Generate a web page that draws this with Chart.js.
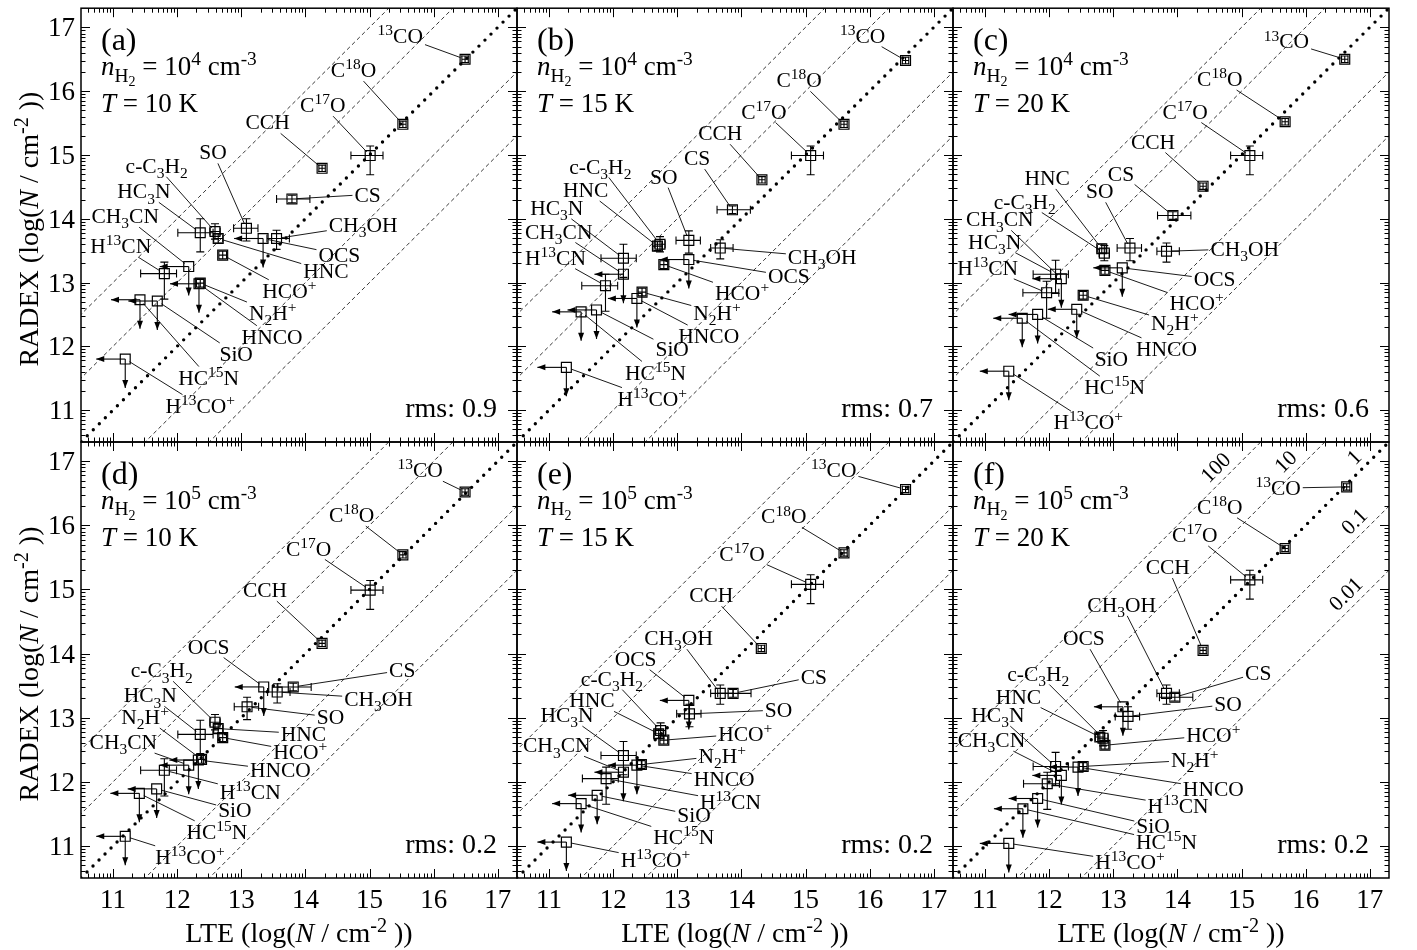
<!DOCTYPE html>
<html>
<head>
<meta charset="utf-8">
<script src="https://cdn.jsdelivr.net/npm/chart.js@4.4.1/dist/chart.umd.min.js"></script>
<style>
  html, body { margin: 0; padding: 0; background: #fff; }
  #wrap { position: relative; width: 1417px; height: 950px; }
  #wrap canvas { position: absolute; left: 0; top: 0; }
</style>
</head>
<body>
<div id="wrap"></div>
<script>
// molecule names (^{} superscript, _{} subscript)
var molecules = ['^{13}CO', 'C^{18}O', 'C^{17}O', 'CCH', 'CS', 'SO', 'c-C_{3}H_{2}', 'HC_{3}N', 'CH_{3}CN',
  'H^{13}CN', 'HNC', 'HCO^{+}', 'N_{2}H^{+}', 'HNCO', 'SiO', 'HC^{15}N', 'H^{13}CO^{+}', 'CH_{3}OH', 'OCS'];
var upperLimit = [0, 0, 0, 0, 0, 0, 0, 0, 1, 0, 0, 0, 0, 1, 1, 1, 1, 0, 1];
var xErrLo = [.05, .05, .30, .05, .24, .20, .08, .35, 0, .37, .07, .06, .06, 0, 0, 0, 0, .15, 0];
var xErrHi = [.05, .05, .20, .05, .28, .18, .08, .20, 0, .19, .07, .06, .06, 0, 0, 0, 0, .20, 0];
var yErrLo = [.05, .05, .30, .05, .06, .20, .12, .30, 0, .40, .07, .06, .06, 0, 0, 0, 0, .17, 0];
var yErrHi = [.05, .05, .15, .05, .06, .15, .12, .22, 0, .18, .07, .06, .06, 0, 0, 0, 0, .13, 0];

// panel (a) n=1e4, T=10K
var lteA   = [16.49, 15.52, 15.01, 14.26, 13.79, 13.08, 12.59, 12.36, 12.18, 11.80, 12.64, 12.71, 12.36, 12.34, 11.69, 11.42, 11.19, 13.55, 13.34];
var radexA = [16.50, 15.48, 14.99, 14.79, 14.31, 13.85, 13.80, 13.78, 13.25, 13.14, 13.69, 13.43, 12.99, 12.98, 12.71, 12.73, 11.80, 13.69, 13.69];
var labXA  = [15.48, 14.75, 14.27, 13.41, 14.97, 12.56, 11.68, 11.48, 11.19, 11.12, 14.32, 13.75, 13.49, 13.48, 12.92, 12.49, 12.36, 14.90, 14.53];
var labYA  = [16.87, 16.33, 15.78, 15.51, 14.38, 15.04, 14.83, 14.43, 14.04, 13.57, 13.18, 12.87, 12.53, 12.15, 11.88, 11.51, 11.07, 13.90, 13.44];
// panel (b) n=1e4, T=15K
var lteB   = [16.56, 15.60, 15.08, 14.32, 13.86, 13.18, 12.73, 12.16, 12.16, 11.88, 12.69, 12.79, 12.45, 12.37, 11.74, 11.50, 11.27, 13.67, 13.18];
var radexB = [16.48, 15.48, 14.99, 14.61, 14.14, 13.66, 13.60, 13.38, 13.13, 12.95, 13.57, 13.28, 12.85, 12.75, 12.57, 12.54, 11.67, 13.54, 13.36];
var labXB  = [15.89, 14.90, 14.35, 13.67, 13.31, 12.79, 11.80, 11.12, 11.15, 11.10, 11.57, 14.01, 13.62, 13.49, 12.92, 12.66, 12.61, 15.26, 14.74];
var labYB  = [16.87, 16.17, 15.68, 15.34, 14.95, 14.66, 14.82, 14.17, 13.80, 13.39, 14.45, 12.84, 12.53, 12.16, 11.96, 11.59, 11.18, 13.40, 13.10];
// panel (c) n=1e4, T=20K
var lteC   = [16.61, 15.68, 15.13, 14.40, 13.93, 13.26, 12.86, 12.10, 12.19, 11.96, 12.82, 12.87, 12.53, 12.43, 11.82, 11.58, 11.37, 13.83, 13.14];
var radexC = [16.50, 15.52, 14.99, 14.51, 14.05, 13.54, 13.46, 13.13, 13.06, 12.84, 13.53, 13.19, 12.80, 12.58, 12.50, 12.44, 11.61, 13.49, 13.23];
var labXC  = [15.70, 14.66, 14.12, 13.62, 13.12, 12.79, 11.62, 11.15, 11.23, 11.04, 11.97, 14.30, 13.96, 13.83, 12.97, 13.02, 12.61, 15.05, 14.58];
var labYC  = [16.78, 16.19, 15.68, 15.21, 14.71, 14.43, 14.27, 13.64, 13.99, 13.23, 14.64, 12.68, 12.37, 11.96, 11.80, 11.36, 10.81, 13.53, 13.05];
// panel (d) n=1e5, T=10K
var lteD   = [16.49, 15.52, 15.01, 14.26, 13.81, 13.09, 12.59, 12.36, 12.18, 11.80, 12.64, 12.71, 12.38, 12.33, 11.68, 11.41, 11.19, 13.56, 13.35];
var radexD = [16.52, 15.54, 14.99, 14.16, 13.48, 13.17, 12.93, 12.74, 12.26, 12.18, 12.83, 12.69, 12.35, 12.34, 11.89, 11.82, 11.15, 13.40, 13.48];
var labXD  = [15.79, 14.72, 14.05, 13.37, 15.51, 14.39, 11.76, 11.58, 11.16, 13.14, 13.97, 13.92, 11.50, 13.61, 12.90, 12.62, 12.20, 15.14, 12.49];
var labYD  = [16.86, 16.16, 15.64, 14.99, 13.74, 13.01, 13.74, 13.35, 12.62, 11.84, 12.75, 12.47, 13.01, 12.18, 11.56, 11.22, 10.83, 13.30, 14.11];
// panel (e) n=1e5, T=15K
var lteE   = [16.56, 15.60, 15.08, 14.31, 13.87, 13.19, 12.74, 12.16, 12.16, 11.89, 12.71, 12.79, 12.44, 12.37, 11.75, 11.50, 11.27, 13.67, 13.18];
var radexE = [16.56, 15.57, 15.08, 14.08, 13.38, 13.06, 12.80, 12.41, 12.15, 12.05, 12.75, 12.65, 12.27, 12.26, 11.79, 11.66, 11.06, 13.38, 13.27];
var labXE  = [15.44, 14.66, 14.01, 13.53, 15.13, 14.58, 11.98, 11.28, 11.12, 13.83, 11.67, 14.06, 13.70, 13.73, 13.26, 13.10, 12.66, 13.02, 12.35];
var labYE  = [16.87, 16.14, 15.56, 14.91, 13.64, 13.12, 13.61, 13.04, 12.57, 11.69, 13.27, 12.75, 12.41, 12.05, 11.48, 11.14, 10.78, 14.24, 13.92];
// panel (f) n=1e5, T=20K
var lteF   = [16.64, 15.68, 15.13, 14.40, 13.96, 13.23, 12.84, 12.10, 12.19, 11.97, 12.79, 12.87, 12.53, 12.45, 11.82, 11.59, 11.37, 13.83, 13.15];
var radexF = [16.60, 15.64, 15.15, 14.05, 13.32, 13.02, 12.68, 12.24, 12.10, 11.97, 12.70, 12.57, 12.24, 12.23, 11.74, 11.58, 11.04, 13.38, 13.17];
var labXF  = [15.57, 14.66, 14.27, 13.85, 15.26, 14.79, 11.83, 11.20, 11.10, 14.01, 11.52, 14.56, 14.27, 14.56, 13.62, 13.83, 13.26, 13.13, 12.54];
var labYF  = [16.58, 16.29, 15.85, 15.35, 13.70, 13.21, 13.69, 13.04, 12.65, 11.63, 13.33, 12.73, 12.34, 11.89, 11.32, 11.06, 10.75, 14.76, 14.24];

var panelTags = ['(a)', '(b)', '(c)', '(d)', '(e)', '(f)'];
var densityExp = [4, 4, 4, 5, 5, 5];
var temperatures = [10, 15, 20, 10, 15, 20];
var rmsValues = ['0.9', '0.7', '0.6', '0.2', '0.2', '0.2'];
var ratios = [100, 10, 1, 0.1, 0.01];
var ratioLabelX = [14.61, 15.70, 16.77, 16.77, 16.64];
var tickValues = [11, 12, 13, 14, 15, 16, 17];
var axisMin = 10.5, axisMax = 17.3;

var panelData = [
  [lteA, radexA, labXA, labYA], [lteB, radexB, labXB, labYB], [lteC, radexC, labXC, labYC],
  [lteD, radexD, labXD, labYD], [lteE, radexE, labXE, labYE], [lteF, radexF, labXF, labYF]
];

var colLeft = [81, 517, 953], colRight = [517, 953, 1389];
var rowTop = [6, 442], rowBottom = [442, 878];
var W = 1417, H = 950;

function fontOf(sz, it) {
  return (it ? 'italic ' : '') + sz.toFixed(1) + 'px "Liberation Serif", "Times New Roman", serif';
}

function parseRich(s) {
  var segs = [], i = 0;
  function walk(lvl, it, inBrace) {
    var buf = '';
    function flush() { if (buf) { segs.push({ t: buf, lvl: lvl, it: it }); buf = ''; } }
    while (i < s.length) {
      var c = s[i];
      if (c === '}' && inBrace) { i++; flush(); return; }
      if ((c === '^' || c === '_') && s[i + 1] === '{') {
        flush(); i += 2; walk(lvl + (c === '^' ? 1 : -1), it, true);
      } else if (c === '*') { flush(); it = !it; i++; }
      else { buf += c; i++; }
    }
    flush();
  }
  walk(0, false, false);
  return segs;
}

function layoutRich(ctx, s, size) {
  var segs = parseRich(s), w = 0;
  segs.forEach(function (g) {
    var sz = size, off = 0;
    for (var k = 0; k < Math.abs(g.lvl); k++) { off += (g.lvl > 0 ? -0.37 : 0.24) * sz; sz *= 0.72; }
    g.sz = sz; g.off = off;
    ctx.font = fontOf(sz, g.it);
    g.x = w; w += ctx.measureText(g.t).width;
  });
  return { segs: segs, w: w };
}

function drawRich(ctx, s, x, y, size, align) {
  var L = layoutRich(ctx, s, size);
  var x0 = align === 'center' ? x - L.w / 2 : (align === 'right' ? x - L.w : x);
  ctx.textAlign = 'left';
  ctx.textBaseline = 'alphabetic';
  L.segs.forEach(function (g) {
    ctx.font = fontOf(g.sz, g.it);
    ctx.fillText(g.t, x0 + g.x, y + g.off);
  });
  return L.w;
}

function arrowTo(ctx, x0, y0, x1, y1) {
  ctx.beginPath(); ctx.moveTo(x0, y0); ctx.lineTo(x1, y1); ctx.stroke();
  var a = Math.atan2(y1 - y0, x1 - x0), len = 8, hw = 3;
  ctx.beginPath();
  ctx.moveTo(x1, y1);
  ctx.lineTo(x1 - len * Math.cos(a) + hw * Math.sin(a), y1 - len * Math.sin(a) - hw * Math.cos(a));
  ctx.lineTo(x1 - len * Math.cos(a) - hw * Math.sin(a), y1 - len * Math.sin(a) + hw * Math.cos(a));
  ctx.closePath(); ctx.fill();
}

function makeDeco(p) {
  return {
    id: 'deco' + p,
    afterDatasetsDraw: function (chart) {
      var ctx = chart.ctx, xs = chart.scales.x, ys = chart.scales.y, a = chart.chartArea;
      var d = panelData[p], lte = d[0], radex = d[1], labX = d[2], labY = d[3];
      var col = p % 3, row = Math.floor(p / 3);
      ctx.save();
      ctx.strokeStyle = '#000'; ctx.fillStyle = '#000';
      ctx.lineWidth = 1.1;

      // error bars / upper limits
      for (var i = 0; i < molecules.length; i++) {
        var px = xs.getPixelForValue(lte[i]), py = ys.getPixelForValue(radex[i]);
        if (upperLimit[i]) {
          arrowTo(ctx, px, py, px - 29, py);
          arrowTo(ctx, px, py, px, py + 29);
        } else {
          var xl = xs.getPixelForValue(lte[i] - xErrLo[i]), xh = xs.getPixelForValue(lte[i] + xErrHi[i]);
          var yl = ys.getPixelForValue(radex[i] - yErrLo[i]), yh = ys.getPixelForValue(radex[i] + yErrHi[i]);
          ctx.beginPath();
          ctx.moveTo(xl, py); ctx.lineTo(xh, py);
          ctx.moveTo(xl, py - 4); ctx.lineTo(xl, py + 4);
          ctx.moveTo(xh, py - 4); ctx.lineTo(xh, py + 4);
          ctx.moveTo(px, yl); ctx.lineTo(px, yh);
          ctx.moveTo(px - 4, yl); ctx.lineTo(px + 4, yl);
          ctx.moveTo(px - 4, yh); ctx.lineTo(px + 4, yh);
          ctx.stroke();
        }
      }

      // labels with leader lines
      var ls = 21.5;
      for (var j = 0; j < molecules.length; j++) {
        var cx = xs.getPixelForValue(labX[j]), cy = ys.getPixelForValue(labY[j]);
        var qx = xs.getPixelForValue(lte[j]), qy = ys.getPixelForValue(radex[j]);
        var Lw = layoutRich(ctx, molecules[j], ls).w;
        var dx = qx - cx, dy = qy - cy;
        var t1 = Math.min((Lw / 2 + 2) / Math.max(Math.abs(dx), 1e-6), (ls * 0.42 + 2) / Math.max(Math.abs(dy), 1e-6));
        var dist = Math.sqrt(dx * dx + dy * dy);
        var t2 = 1 - 5 / dist;
        if (t1 < t2) {
          ctx.lineWidth = 0.9;
          ctx.beginPath();
          ctx.moveTo(cx + dx * t1, cy + dy * t1);
          ctx.lineTo(cx + dx * t2, cy + dy * t2);
          ctx.stroke();
        }
        drawRich(ctx, molecules[j], cx, cy + ls * 0.33, ls, 'center');
      }

      // ratio labels (panel f)
      if (p === 5) {
        for (var r = 0; r < ratios.length; r++) {
          var rx = xs.getPixelForValue(ratioLabelX[r]);
          var ry = ys.getPixelForValue(ratioLabelX[r] + Math.log10(ratios[r]) + 0.28);
          ctx.save();
          ctx.translate(rx, ry); ctx.rotate(-Math.PI / 4);
          ctx.font = fontOf(21.5, false); ctx.textAlign = 'center'; ctx.textBaseline = 'middle';
          ctx.fillText(String(ratios[r]), 0, 0);
          ctx.restore();
        }
      }

      // frame and ticks
      ctx.lineWidth = 1.5;
      ctx.strokeRect(a.left, a.top, a.right - a.left, a.bottom - a.top);
      ctx.lineWidth = 1;
      ctx.beginPath();
      for (var v = 10; v <= 17; v++) {
        for (var k = 1; k <= 9; k++) {
          var val = v + Math.log10(k);
          if (val <= axisMin + 0.01 || val >= axisMax - 0.01) continue;
          var len = k === 1 ? 9 : 4.5;
          var tx = Math.round(xs.getPixelForValue(val)) + 0.5, ty = Math.round(ys.getPixelForValue(val)) + 0.5;
          ctx.moveTo(tx, a.bottom); ctx.lineTo(tx, a.bottom - len);
          ctx.moveTo(tx, a.top); ctx.lineTo(tx, a.top + len);
          ctx.moveTo(a.left, ty); ctx.lineTo(a.left + len, ty);
          ctx.moveTo(a.right, ty); ctx.lineTo(a.right - len, ty);
        }
      }
      ctx.stroke();

      // tick labels and axis titles
      ctx.font = fontOf(27, false);
      if (row === 1) {
        ctx.textAlign = 'center'; ctx.textBaseline = 'alphabetic';
        tickValues.forEach(function (tv) { ctx.font = fontOf(27, false); ctx.fillText(String(tv), xs.getPixelForValue(tv), a.bottom + 30); });
        drawRich(ctx, 'LTE (log(*N* / cm^{-2} ))', (a.left + a.right) / 2, 942, 28, 'center');
      }
      if (col === 0) {
        ctx.textAlign = 'right'; ctx.textBaseline = 'alphabetic';
        tickValues.forEach(function (tv) { ctx.font = fontOf(27, false); ctx.fillText(String(tv), a.left - 6, ys.getPixelForValue(tv) + 9); });
        ctx.save();
        ctx.translate(38, (a.top + a.bottom) / 2 + 4); ctx.rotate(-Math.PI / 2);
        drawRich(ctx, 'RADEX (log(*N* / cm^{-2} ))', 0, 0, 28, 'center');
        ctx.restore();
      }

      // panel texts
      drawRich(ctx, panelTags[p], a.left + 20, a.top + 42, 32, 'left');
      drawRich(ctx, '*n*_{H_{2}} = 10^{' + densityExp[p] + '} cm^{-3}', a.left + 20, a.top + 67, 27, 'left');
      drawRich(ctx, '*T* = ' + temperatures[p] + ' K', a.left + 20, a.top + 104, 27, 'left');
      drawRich(ctx, 'rms: ' + rmsValues[p], a.right - 20, a.bottom - 25, 28, 'right');
      ctx.restore();
    }
  };
}

var wrap = document.getElementById('wrap');
for (var p = 0; p < 6; p++) {
  var col = p % 3, row = Math.floor(p / 3);
  var cv = document.createElement('canvas');
  cv.width = W; cv.height = H;
  wrap.appendChild(cv);
  var d = panelData[p];
  var datasets = ratios.map(function (r) {
    var off = Math.log10(r);
    return {
      data: [{ x: 9, y: 9 + off }, { x: 19, y: 19 + off }],
      showLine: true, pointRadius: 0, borderColor: r === 1 ? '#000' : '#222',
      borderWidth: r === 1 ? 3.4 : 0.9,
      borderDash: r === 1 ? [0, 8.5] : [4, 3],
      borderCapStyle: r === 1 ? 'round' : 'butt'
    };
  });
  datasets.push({
    data: d[0].map(function (x, i) { return { x: x, y: d[1][i] }; }),
    pointStyle: 'rect', pointRadius: 7, pointBorderWidth: 1.2,
    pointBorderColor: '#000', pointBackgroundColor: 'rgba(0,0,0,0)', showLine: false
  });
  new Chart(cv, {
    type: 'scatter',
    data: { datasets: datasets },
    options: {
      responsive: false, animation: false, devicePixelRatio: 1, events: [],
      layout: { padding: { left: colLeft[col], top: rowTop[row], right: W - colRight[col], bottom: H - rowBottom[row] } },
      plugins: { legend: { display: false }, tooltip: { enabled: false } },
      scales: {
        x: { type: 'linear', min: axisMin, max: axisMax, display: false },
        y: { type: 'linear', min: axisMin, max: axisMax, display: false }
      }
    },
    plugins: [makeDeco(p)]
  });
}
</script>
</body>
</html>
